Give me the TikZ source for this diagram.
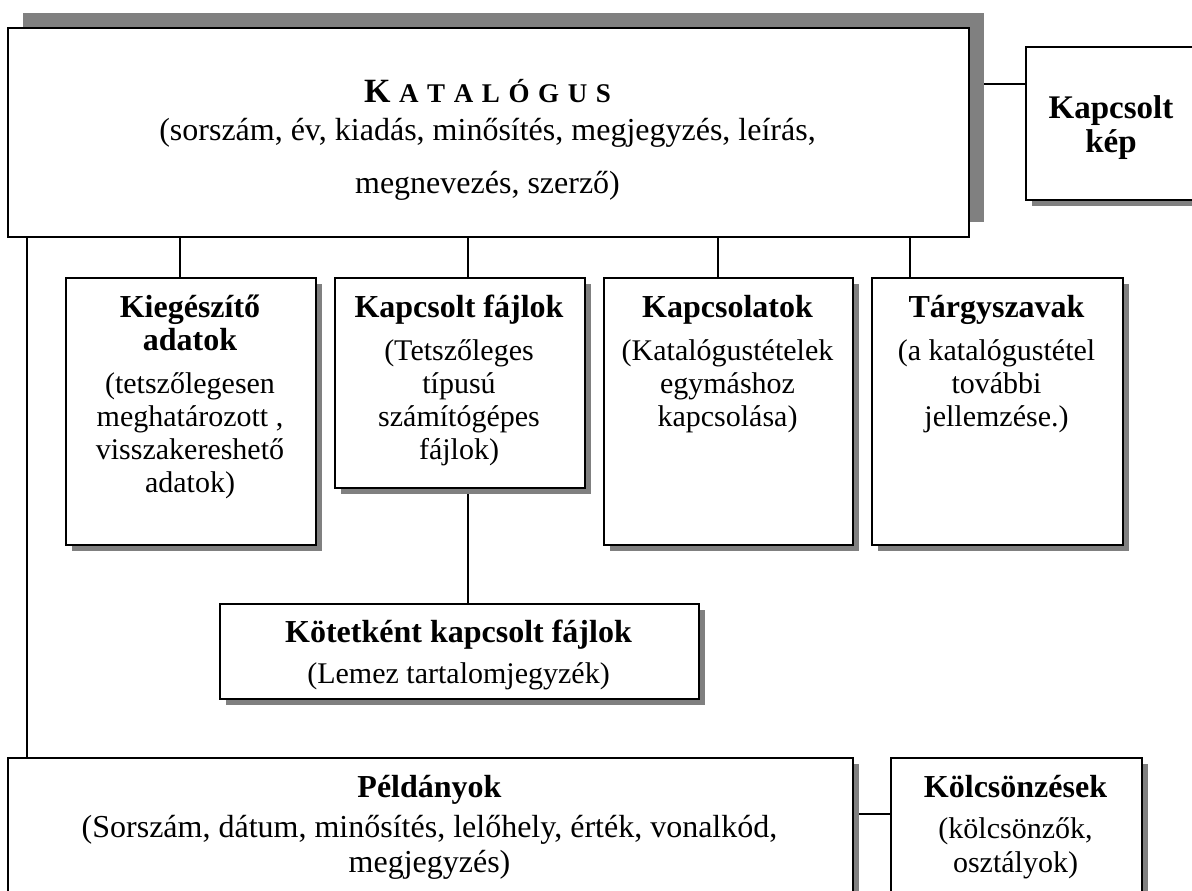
\documentclass[tikz,border=0pt]{standalone}
\usepackage{fontspec}
\setmainfont{Liberation Serif}
\usetikzlibrary{shadows,backgrounds}
\newcommand\hd[2][16]{{\fontsize{#1}{#1}\selectfont\bfseries #2}}
\newcommand\tg{\kern4.3pt}
\newcommand\ktitle{{\bfseries\fontsize{17}{17}\selectfont K}\tg{\bfseries\fontsize{13.5}{13.5}\selectfont A\tg T\tg A\tg L\tg Ó\tg G\tg U\tg S}}
\begin{document}
\begin{tikzpicture}[x=0.5pt,y=-0.5pt,
  box/.style={draw=black, line width=1pt, fill=white, inner sep=0pt, anchor=north west},
  shd/.style={drop shadow={shadow xshift=2.75pt, shadow yshift=-2.75pt, fill=black!50, opacity=1}},
  bigshd/.style={drop shadow={shadow xshift=7.25pt, shadow yshift=7.75pt, fill=black!50, opacity=1}},
  txt/.style={align=center, inner sep=0pt, anchor=base, font=\fontsize{15}{16.5}\selectfont},
  link/.style={draw=black, line width=1pt}]
\useasboundingbox (0,0) rectangle (1192,890);
\clip (0,0) rectangle (1192,890);
% boxes
\node[box, bigshd, minimum width=480.5pt, minimum height=104.5pt] (kat) at (7,27) {};
\node[box, shd, minimum width=86pt, minimum height=76.5pt] (kep) at (1025,46) {};
\node[box, shd, minimum width=125pt, minimum height=133.5pt] (kieg) at (65,277) {};
\node[box, shd, minimum width=125pt, minimum height=105pt] (fajl) at (334,277) {};
\node[box, shd, minimum width=124.5pt, minimum height=133.5pt] (kapcs) at (603,277) {};
\node[box, shd, minimum width=125.5pt, minimum height=133.5pt] (targy) at (871,277) {};
\node[box, shd, minimum width=239.5pt, minimum height=47.5pt] (kotet) at (219,603) {};
\node[box, shd, minimum width=422.5pt, minimum height=90pt] (pld) at (7,757) {};
\node[box, shd, minimum width=125.5pt, minimum height=90pt] (kolcs) at (890,757) {};
% connector helpers
\coordinate (xa) at (180,0);
\coordinate (xb) at (468,0);
\coordinate (xc) at (718,0);
\coordinate (xd) at (910,0);
\coordinate (xl) at (26.5,0);
\coordinate (yk) at (0,84);
\coordinate (yp) at (0,814);
\begin{scope}[on background layer]
\draw[link] (kat.south -| xa) -- (kieg.north -| xa);
\draw[link] (kat.south -| xb) -- (fajl.north -| xb);
\draw[link] (kat.south -| xc) -- (kapcs.north -| xc);
\draw[link] (kat.south -| xd) -- (targy.north -| xd);
\draw[link] (kat.east |- yk) -- (kep.west |- yk);
\draw[link] (fajl.south -| xb) -- (kotet.north -| xb);
\draw[link] (kat.south -| xl) -- (pld.north -| xl);
\draw[link] (pld.east |- yp) -- (kolcs.west |- yp);
\end{scope}
% texts (anchored at the baseline of their last line)
\node[txt, font=\fontsize{16}{26.5}\selectfont] (tkat) at (487.5,193)
  {\ktitle\\[-7.5pt](sorszám, év, kiadás, minősítés, megjegyzés, leírás,\\megnevezés, szerző)};
\node[txt, font=\fontsize{16.5}{17}\selectfont] (tkep) at (1111,152) {\hd[16.5]{Kapcsolt}\\\hd[16.5]{kép}};
\node[txt] (tkieg) at (190,492) {\hd{Kiegészítő}\\\hd{adatok}\\[5pt](tetszőlegesen\\meghatározott ,\\visszakereshető\\adatok)};
\node[txt] (tfajl) at (459,459) {\hd{Kapcsolt fájlok}\\[5pt](Tetszőleges\\típusú\\számítógépes\\fájlok)};
\node[txt] (tkapcs) at (727.5,426) {\hd{Kapcsolatok}\\[5pt](Katalógustételek\\egymáshoz\\kapcsolása)};
\node[txt] (ttargy) at (996.5,426) {\hd{Tárgyszavak}\\[5pt](a katalógustétel\\további\\jellemzése.)};
\node[txt] (tkotet) at (458.5,683) {\hd{Kötetként kapcsolt fájlok}\\[4pt](Lemez tartalomjegyzék)};
\node[txt, font=\fontsize{16}{17.5}\selectfont] (tpld) at (429.5,872)
  {\hd{Példányok}\\[2.5pt](Sorszám, dátum, minősítés, lelőhely, érték, vonalkód,\\megjegyzés)};
\node[txt, font=\fontsize{15}{17}\selectfont] (tkolcs) at (1015.5,872) {\hd{Kölcsönzések}\\[3.5pt](kölcsönzők,\\osztályok)};
\end{tikzpicture}
\end{document}
